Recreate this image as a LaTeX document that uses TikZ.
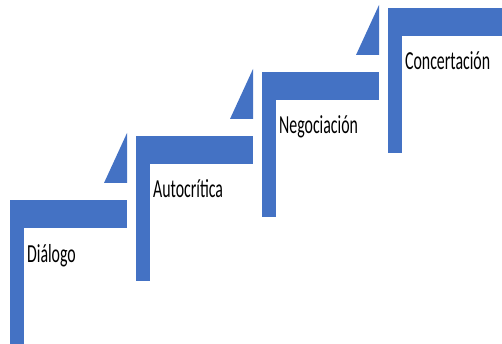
\documentclass[tikz,border=0pt]{standalone}
\usepackage{fontspec}
\setmainfont{Carlito}
\usepackage{tikz}
\usetikzlibrary{positioning}
\definecolor{stepblue}{HTML}{4472C4}

\begin{document}
\begin{tikzpicture}[
        x=1pt, y=-1pt,
        stepbar/.style={fill=stepblue, draw=none},
        steplabel/.style={anchor=base west, inner sep=0, xscale=0.61, font=\fontsize{26}{30}\selectfont}
    ]
        \useasboundingbox (0,0) rectangle (502,344);

        % 定义台阶参数
        \def\steps{
            Diálogo/0,
            Autocrítica/1,
            Negociación/2,
            Concertación/3
        }

        % 绘制台阶、三角形和标签
        \foreach \stepname/\i in \steps {
            \pgfmathsetmacro{\x}{10+126*\i}
            \pgfmathsetmacro{\y}{200-64*\i}
            % 横条与竖条
            \fill[stepbar] (\x,\y) rectangle ++(117,28);
            \fill[stepbar] (\x,\y) rectangle ++(14,145);
            % 标签
            \node[steplabel] (label-\i) at ({\x+17},{\y+62}) {\stepname};
            % 台阶之间的三角形
            \ifnum\i<3
                \fill[stepbar] ({\x+117},{\y-67}) -- ++(0,50) -- ++(-23,0) -- cycle;
            \fi
        }
    \end{tikzpicture}
\end{document}
